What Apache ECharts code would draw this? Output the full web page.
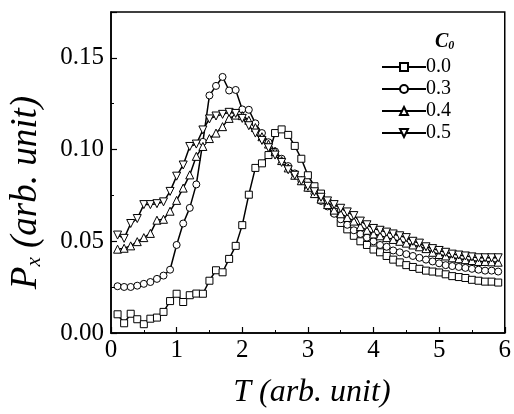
<!DOCTYPE html>
<html>
<head>
<meta charset="utf-8">
<script src="https://cdn.jsdelivr.net/npm/echarts@6/dist/echarts.min.js"></script>
<style>
  html, body { margin: 0; padding: 0; background: #fff; }
  #chart { width: 514px; height: 414px; }
</style>
</head>
<body>
<div id="chart"></div>
<script>
// T values: 0.1 .. 5.9 step 0.1
const tValues = [0.1, 0.2, 0.3, 0.4, 0.5, 0.6, 0.7, 0.8, 0.9, 1.0,
  1.1, 1.2, 1.3, 1.4, 1.5, 1.6, 1.7, 1.8, 1.9, 2.0,
  2.1, 2.2, 2.3, 2.4, 2.5, 2.6, 2.7, 2.8, 2.9, 3.0,
  3.1, 3.2, 3.3, 3.4, 3.5, 3.6, 3.7, 3.8, 3.9, 4.0,
  4.1, 4.2, 4.3, 4.4, 4.5, 4.6, 4.7, 4.8, 4.9, 5.0,
  5.1, 5.2, 5.3, 5.4, 5.5, 5.6, 5.7, 5.8, 5.9]

const c00 = [0.0102, 0.0053, 0.0105, 0.0075, 0.0048, 0.0078, 0.0084, 0.0115, 0.0174, 0.0214,
  0.0169, 0.0206, 0.0215, 0.0214, 0.0285, 0.0342, 0.0331, 0.0404, 0.0475, 0.0588,
  0.0754, 0.0900, 0.0925, 0.0970, 0.1090, 0.1110, 0.1080, 0.1020, 0.0950, 0.0860,
  0.0800, 0.0760, 0.0710, 0.0660, 0.0600, 0.0565, 0.0530, 0.0500, 0.0480, 0.0455,
  0.0440, 0.0420, 0.0400, 0.0385, 0.0370, 0.0360, 0.0350, 0.0340, 0.0335, 0.0330,
  0.0320, 0.0310, 0.0305, 0.0300, 0.0290, 0.0285, 0.0280, 0.0280, 0.0275]

const c03 = [0.0255, 0.0251, 0.0251, 0.0258, 0.0268, 0.0278, 0.0295, 0.0313, 0.0345, 0.0480,
  0.0597, 0.0682, 0.0810, 0.1042, 0.1295, 0.1347, 0.1396, 0.1322, 0.1325, 0.1219,
  0.1217, 0.1143, 0.1090, 0.1040, 0.0990, 0.0950, 0.0910, 0.0870, 0.0830, 0.0790,
  0.0760, 0.0720, 0.0690, 0.0650, 0.0620, 0.0590, 0.0560, 0.0540, 0.0520, 0.0500,
  0.0480, 0.0470, 0.0450, 0.0440, 0.0430, 0.0420, 0.0410, 0.0400, 0.0390, 0.0380,
  0.0370, 0.0365, 0.0360, 0.0355, 0.0350, 0.0345, 0.0340, 0.0340, 0.0335]

const c04 = [0.0457, 0.0462, 0.0475, 0.0498, 0.0520, 0.0543, 0.0615, 0.0620, 0.0664, 0.0723,
  0.0790, 0.0862, 0.0963, 0.1017, 0.1060, 0.1090, 0.1125, 0.1170, 0.1188, 0.1185,
  0.1160, 0.1120, 0.1070, 0.1030, 0.0990, 0.0940, 0.0900, 0.0860, 0.0830, 0.0795,
  0.0760, 0.0730, 0.0700, 0.0670, 0.0650, 0.0630, 0.0610, 0.0580, 0.0560, 0.0540,
  0.0530, 0.0520, 0.0510, 0.0500, 0.0490, 0.0480, 0.0470, 0.0460, 0.0440, 0.0428,
  0.0420, 0.0410, 0.0405, 0.0400, 0.0395, 0.0390, 0.0390, 0.0388, 0.0386]

const c05 = [0.0534, 0.0516, 0.0597, 0.0624, 0.0700, 0.0700, 0.0705, 0.0715, 0.0772, 0.0855,
  0.0916, 0.1017, 0.1030, 0.1107, 0.1167, 0.1183, 0.1192, 0.1203, 0.1197, 0.1170,
  0.1130, 0.1090, 0.1050, 0.1010, 0.0970, 0.0930, 0.0890, 0.0860, 0.0830, 0.0800,
  0.0770, 0.0740, 0.0720, 0.0700, 0.0680, 0.0660, 0.0640, 0.0610, 0.0590, 0.0570,
  0.0560, 0.0550, 0.0540, 0.0530, 0.0520, 0.0500, 0.0490, 0.0470, 0.0460, 0.0450,
  0.0440, 0.0430, 0.0425, 0.0420, 0.0415, 0.0410, 0.0410, 0.0410, 0.0410]

const seriesNames = ['0.0', '0.3', '0.4', '0.5']
const yTickLabels = ['0.00', '0.05', '0.10', '0.15']
const xTickLabels = ['0', '1', '2', '3', '4', '5', '6']

const serif = 'Liberation Serif'

function pairs(values) {
  return values.map((v, i) => [tValues[i], v])
}

function makeSeries(name, values, symbol, size, rotate) {
  return {
    name: name,
    type: 'line',
    data: pairs(values),
    symbol: symbol,
    symbolSize: size,
    symbolRotate: rotate || 0,
    showAllSymbol: true,
    lineStyle: { color: '#000', width: 1.5 },
    itemStyle: { color: '#fff', borderColor: '#000', borderWidth: 1 },
    emphasis: { disabled: true },
    animation: false
  }
}

const chartDom = echarts.init(document.getElementById('chart'))
const option = {
  backgroundColor: '#fff',
  title: {
    text: '{i|C}{s|0}',
    left: 430,
    top: 26,
    textStyle: {
      rich: {
        i: { fontFamily: serif, fontStyle: 'italic', fontSize: 20, color: '#000' },
        s: { fontFamily: serif, fontStyle: 'italic', fontSize: 12, color: '#000', verticalAlign: 'bottom', padding: [9, 0, 0, 0] }
      }
    }
  },
  legend: {
    data: seriesNames,
    orient: 'vertical',
    left: 376,
    top: 52,
    itemWidth: 44,
    itemHeight: 10,
    itemGap: 2,
    textStyle: { fontFamily: serif, fontSize: 20, color: '#000', padding: [0, 0, 0, -5] },
    selectedMode: false
  },
  grid: {
    left: 110,
    top: 12,
    right: 7,
    bottom: 79,
    show: true,
    borderColor: '#000',
    borderWidth: 1.5
  },
  xAxis: {
    type: 'value',
    min: 0,
    max: 6,
    interval: 1,
    name: '{i|T} (arb. unit)',
    nameLocation: 'middle',
    nameGap: 44,
    nameTextStyle: {
      fontFamily: serif,
      fontStyle: 'italic',
      fontSize: 32,
      color: '#000',
      padding: [0, 0, 0, 8],
      rich: { i: { fontFamily: serif, fontStyle: 'italic', fontSize: 32, color: '#000' } }
    },
    axisLine: { lineStyle: { color: '#000', width: 1.5 } },
    axisTick: { inside: true, length: 6, lineStyle: { color: '#000', width: 1.2 } },
    minorTick: { show: true, splitNumber: 2, length: 3, lineStyle: { color: '#000' } },
    splitLine: { show: false },
    axisLabel: {
      fontFamily: serif,
      fontSize: 25,
      color: '#000',
      margin: 5,
      formatter: v => xTickLabels[Math.round(v)]
    }
  },
  yAxis: {
    type: 'value',
    min: 0,
    max: 0.175,
    interval: 0.05,
    name: '{i|P}{s|x} (arb. unit)',
    nameLocation: 'middle',
    nameGap: 66,
    nameRotate: 90,
    nameTextStyle: {
      fontFamily: serif,
      fontStyle: 'italic',
      fontSize: 37,
      color: '#000',
      padding: [0, 40, 0, 0], // pushes the rotated title down a bit
      rich: {
        i: { fontFamily: serif, fontStyle: 'italic', fontSize: 37, color: '#000' },
        s: { fontFamily: serif, fontStyle: 'italic', fontSize: 21, color: '#000', verticalAlign: 'bottom', padding: [15, 0, 0, 0] }
      }
    },
    axisLine: { lineStyle: { color: '#000', width: 1.5 } },
    axisTick: { inside: true, length: 6, lineStyle: { color: '#000', width: 1.2 } },
    minorTick: { show: true, splitNumber: 2, length: 3, lineStyle: { color: '#000' } },
    splitLine: { show: false },
    axisLabel: {
      fontFamily: serif,
      fontSize: 25,
      color: '#000',
      margin: 7,
      showMaxLabel: false,
      formatter: v => yTickLabels[Math.round(v / 0.05)] || ''
    }
  },
  series: [
    makeSeries(seriesNames[0], c00, 'rect', 7),
    makeSeries(seriesNames[1], c03, 'circle', 7),
    makeSeries(seriesNames[2], c04, 'triangle', 8),
    makeSeries(seriesNames[3], c05, 'triangle', 8, 180)
  ]
}
chartDom.setOption(option)
</script>
</body>
</html>
